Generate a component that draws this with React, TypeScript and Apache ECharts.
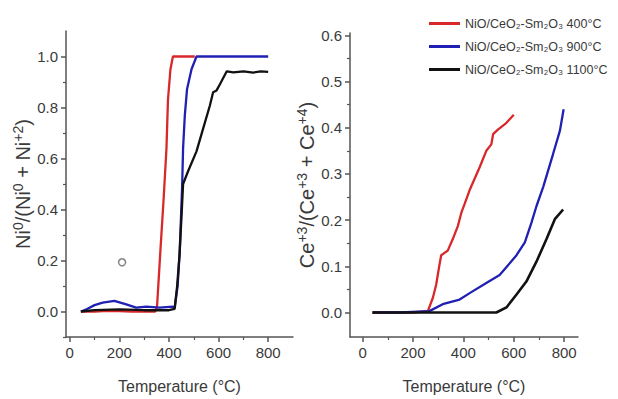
import React, { useEffect, useRef } from "react";
import * as echarts from "echarts";

// ---------- data ----------
const seriesNames = ["NiO/CeO₂-Sm₂O₃ 400°C", "NiO/CeO₂-Sm₂O₃ 900°C", "NiO/CeO₂-Sm₂O₃ 1100°C"];
const seriesColors = ["#d8282a", "#2020b4", "#111111"];

const xMajorTicks = [0, 200, 400, 600, 800];
const xMinorTicks = [100, 300, 500, 700];
const leftYMajorTicks = [0, 0.2, 0.4, 0.6, 0.8, 1.0];
const leftYMinorTicks = [-0.1, 0.1, 0.3, 0.5, 0.7, 0.9];
const rightYMajorTicks = [0, 0.1, 0.2, 0.3, 0.4, 0.5, 0.6];
const rightYMinorTicks = [0.05, 0.15, 0.25, 0.35, 0.45, 0.55];

// Left panel: Ni0/(Ni0 + Ni+2)
const ni400Temp = [45, 100, 150, 200, 250, 300, 345, 352, 365, 379, 390, 396, 406, 416, 504];
const ni400Frac = [0, 0, 0.003, 0.002, 0, 0, 0, 0.02, 0.23, 0.45, 0.64, 0.83, 0.95, 1.0, 1.0];

const ni900Temp = [45, 70, 100, 133, 180, 228, 268, 309, 362, 416, 423, 435, 443, 453, 457, 464, 473, 491, 511, 800];
const ni900Frac = [0, 0.01, 0.025, 0.035, 0.042, 0.028, 0.015, 0.019, 0.015, 0.019, 0.015, 0.1, 0.228, 0.486, 0.641, 0.77, 0.873, 0.95, 1.0, 1.0];

const ni1100Temp = [45, 100, 200, 300, 400, 423, 433, 443, 452, 457, 477, 511, 538, 565, 578, 592, 606, 633, 660, 700, 740, 770, 800];
const ni1100Frac = [0, 0.005, 0.008, 0.005, 0.005, 0.01, 0.1, 0.228, 0.4, 0.5, 0.55, 0.628, 0.718, 0.808, 0.86, 0.867, 0.892, 0.942, 0.938, 0.942, 0.937, 0.942, 0.94];

const markerPoint = [211, 0.193];

// Right panel: Ce+3/(Ce+3 + Ce+4)
const ce400Temp = [38, 100, 200, 259, 279, 292, 305, 312, 338, 358, 378, 392, 405, 425, 465, 491, 511, 518, 537, 570, 600];
const ce400Frac = [0, 0, 0, 0.003, 0.032, 0.06, 0.103, 0.124, 0.134, 0.159, 0.187, 0.216, 0.235, 0.265, 0.315, 0.35, 0.364, 0.386, 0.396, 0.41, 0.428];

const ce900Temp = [40, 150, 265, 318, 385, 425, 491, 544, 611, 644, 670, 690, 717, 756, 783, 798];
const ce900Frac = [0, 0, 0.003, 0.018, 0.028, 0.042, 0.064, 0.081, 0.124, 0.152, 0.194, 0.23, 0.272, 0.343, 0.393, 0.44];

const ce1100Temp = [40, 200, 400, 531, 571, 611, 650, 690, 730, 763, 796];
const ce1100Frac = [0, 0, 0, 0, 0.011, 0.039, 0.067, 0.11, 0.159, 0.202, 0.223];

// ---------- helpers ----------
const zip = (xs: number[], ys: number[]) => xs.map((x, i) => [x, ys[i]]);

const FONT = 'Arial, "Liberation Sans", Helvetica, sans-serif';
const TEXT = "#3a3a3a";
const AXIS = "#555555";

const nameRich = {
  n: { fontFamily: FONT, fontSize: 20, lineHeight: 24, color: TEXT, verticalAlign: "middle" },
  s: { fontFamily: FONT, fontSize: 14, lineHeight: 14, color: TEXT, verticalAlign: "top" },
};

function mainXAxis(grid: number, min: number, max: number) {
  return {
    type: "value",
    gridIndex: grid,
    min,
    max,
    position: "bottom",
    name: "Temperature (°C)",
    nameLocation: "middle",
    nameGap: 41,
    nameTextStyle: { fontFamily: FONT, fontSize: 16, color: TEXT },
    axisLine: { show: true, onZero: false, lineStyle: { color: AXIS, width: 1.5 } },
    axisTick: { show: true, inside: false, length: 5, customValues: xMajorTicks, lineStyle: { color: AXIS, width: 1.5 } },
    axisLabel: { customValues: xMajorTicks, margin: 8, fontFamily: FONT, fontSize: 15, color: TEXT },
    splitLine: { show: false },
  };
}
function minorXAxis(grid: number, min: number, max: number) {
  return {
    type: "value",
    gridIndex: grid,
    min,
    max,
    position: "bottom",
    axisLine: { show: false, onZero: false },
    axisTick: { show: true, inside: false, length: 3, customValues: xMinorTicks, lineStyle: { color: AXIS, width: 1.2 } },
    axisLabel: { show: false },
    splitLine: { show: false },
  };
}
function mainYAxis(grid: number, min: number, max: number, ticks: number[], name: string, gap: number) {
  return {
    type: "value",
    gridIndex: grid,
    min,
    max,
    position: "left",
    name,
    nameLocation: "middle",
    nameGap: gap,
    nameTextStyle: { fontFamily: FONT, fontSize: 20, color: TEXT, rich: nameRich },
    axisLine: { show: true, onZero: false, lineStyle: { color: AXIS, width: 1.5 } },
    axisTick: { show: true, inside: false, length: 5, customValues: ticks, lineStyle: { color: AXIS, width: 1.5 } },
    axisLabel: {
      customValues: ticks,
      margin: 8,
      fontFamily: FONT,
      fontSize: 15,
      color: TEXT,
      formatter: (v: number) => v.toFixed(1),
    },
    splitLine: { show: false },
  };
}
function minorYAxis(grid: number, min: number, max: number, ticks: number[]) {
  return {
    type: "value",
    gridIndex: grid,
    min,
    max,
    position: "left",
    axisLine: { show: false, onZero: false },
    axisTick: { show: true, inside: false, length: 3, customValues: ticks, lineStyle: { color: AXIS, width: 1.2 } },
    axisLabel: { show: false },
    splitLine: { show: false },
  };
}

function lineSeries(nameIdx: number, xAxisIndex: number, yAxisIndex: number, data: number[][], width = 2.3) {
  return {
    type: "line",
    name: seriesNames[nameIdx],
    xAxisIndex,
    yAxisIndex,
    data,
    symbol: "none",
    showSymbol: false,
    smooth: false,
    color: seriesColors[nameIdx],
    lineStyle: { color: seriesColors[nameIdx], width },
    z: 2 + nameIdx,
  };
}

export default function App() {
  const ref = useRef<HTMLDivElement>(null);
  useEffect(() => {
    if (!ref.current) return;
    const chart = echarts.init(ref.current, undefined, { renderer: "svg" });
    const LX = [-15, 900];
    const RX = [-50, 855];
    const LY = [-0.1, 1.1];
    const RY = [-0.053, 0.605];
    chart.setOption({
      animation: false,
      backgroundColor: "#ffffff",
      textStyle: { fontFamily: FONT },
      grid: [
        { left: 66, top: 31, width: 227, height: 311 },
        { left: 350, top: 33, width: 228, height: 310 },
      ],
      xAxis: [
        mainXAxis(0, LX[0], LX[1]),
        minorXAxis(0, LX[0], LX[1]),
        mainXAxis(1, RX[0], RX[1]),
        minorXAxis(1, RX[0], RX[1]),
      ],
      yAxis: [
        mainYAxis(0, LY[0], LY[1], leftYMajorTicks, "{n|Ni}{s|0}{n|/(Ni}{s|0}{n| + Ni}{s|+2}{n|)}", 28),
        minorYAxis(0, LY[0], LY[1], leftYMinorTicks),
        mainYAxis(1, RY[0], RY[1], rightYMajorTicks, "{n|Ce}{s|+3}{n|/(Ce}{s|+3}{n| + Ce}{s|+4}{n|)}", 27),
        minorYAxis(1, RY[0], RY[1], rightYMinorTicks),
      ],
      legend: {
        data: seriesNames,
        orient: "vertical",
        left: 424,
        top: 11,
        icon: "rect",
        itemWidth: 31,
        itemHeight: 3,
        itemGap: 8,
        textStyle: { fontFamily: FONT, fontSize: 12.5, color: TEXT, lineHeight: 15 },
      },
      series: [
        lineSeries(0, 0, 0, zip(ni400Temp, ni400Frac)),
        lineSeries(1, 0, 0, zip(ni900Temp, ni900Frac)),
        lineSeries(2, 0, 0, zip(ni1100Temp, ni1100Frac)),
        {
          type: "scatter",
          name: "marker",
          xAxisIndex: 0,
          yAxisIndex: 0,
          data: [markerPoint],
          symbol: "circle",
          symbolSize: 7,
          itemStyle: { color: "#ffffff", borderColor: "#666666", borderWidth: 1.5 },
        },
        lineSeries(0, 2, 2, zip(ce400Temp, ce400Frac)),
        lineSeries(1, 2, 2, zip(ce900Temp, ce900Frac)),
        lineSeries(2, 2, 2, zip(ce1100Temp, ce1100Frac), 2.6),
      ],
    });
    return () => chart.dispose();
  }, []);
  return (
    <div
      ref={ref}
      style={{ position: "fixed", left: 0, top: 0, width: 618, height: 399, background: "#fff" }}
    />
  );
}
